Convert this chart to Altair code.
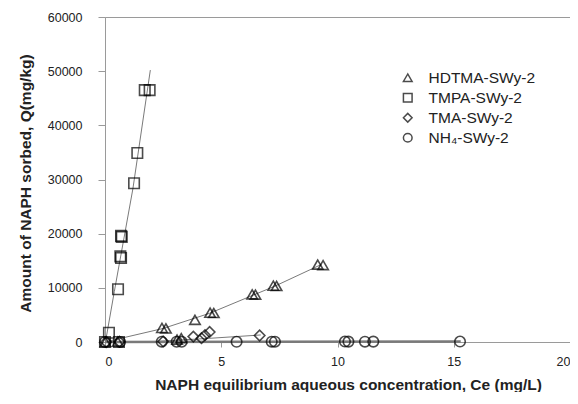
import altair as alt
import pandas as pd

# ---- data ----
series_names = ["HDTMA-SWy-2", "TMPA-SWy-2", "TMA-SWy-2", "NH\u2084-SWy-2"]

hdtma_x = [0.02, 0.55, 2.45, 2.62, 3.10, 3.28, 3.87, 4.52, 4.68, 6.33, 6.47, 7.24, 7.38, 9.15, 9.38]
hdtma_y = [0, 80, 2600, 2500, 450, 700, 4100, 5400, 5350, 8800, 8750, 10400, 10350, 14300, 14200]

tmpa_x = [0.0, 0.6, 0.17, 0.56, 0.66, 0.69, 0.69, 0.72, 1.25, 1.39, 1.71, 1.92]
tmpa_y = [0, 0, 1700, 9750, 15800, 15500, 19600, 19400, 29300, 34900, 46500, 46500]

tma_x = [0.05, 0.62, 2.5, 3.8, 4.15, 4.3, 4.5, 6.65]
tma_y = [0, 50, 100, 1000, 700, 1250, 1850, 1200]

nh4_x = [0.0, 0.65, 2.44, 3.08, 3.3, 5.66, 7.17, 7.31, 10.32, 10.47, 11.18, 11.54, 15.27]
nh4_y = [0, 0, 60, 50, 50, 40, 60, 50, 80, 70, 60, 70, 80]

# fitted curves
fit_hdtma_x = [0.0, 2.5, 4.5, 6.4, 7.3, 9.3]
fit_hdtma_y = [0, 2500, 5300, 8700, 10300, 14300]
fit_tmpa_x = [0.02, 0.4, 1.2, 1.95]
fit_tmpa_y = [0, 9300, 28300, 50200]
fit_tma_x = [0.0, 2.0, 4.5, 6.7]
fit_tma_y = [0, 50, 680, 1300]
fit_nh4_x = [0.0, 15.3]
fit_nh4_y = [0, 90]

x_ticks = [0, 5, 10, 15, 20]
y_ticks = [0, 10000, 20000, 30000, 40000, 50000, 60000]

# ---- tables ----
pts = pd.concat([
    pd.DataFrame({"x": hdtma_x, "y": hdtma_y, "s": series_names[0]}),
    pd.DataFrame({"x": tmpa_x, "y": tmpa_y, "s": series_names[1]}),
    pd.DataFrame({"x": tma_x, "y": tma_y, "s": series_names[2]}),
    pd.DataFrame({"x": nh4_x, "y": nh4_y, "s": series_names[3]}),
])
fits = pd.concat([
    pd.DataFrame({"x": fit_hdtma_x, "y": fit_hdtma_y, "s": "f1", "w": 1.0}),
    pd.DataFrame({"x": fit_tmpa_x, "y": fit_tmpa_y, "s": "f2", "w": 1.0}),
    pd.DataFrame({"x": fit_tma_x, "y": fit_tma_y, "s": "f3", "w": 1.0}),
    pd.DataFrame({"x": fit_nh4_x, "y": fit_nh4_y, "s": "f4", "w": 2.5}),
])

FONT = "Liberation Sans"
xscale = alt.Scale(domain=[0, 20], nice=False, zero=True)
yscale = alt.Scale(domain=[0, 60000], nice=False)

xaxis = alt.Axis(values=x_ticks, title="NAPH equilibrium aqueous concentration, Ce (mg/L)",
                 grid=False, tickSize=5, labelPadding=8, labelFontSize=12.5,
                 titleFontSize=15.5, titleFontWeight="bold",
                 titleX=243, titleY=42, titleBaseline="middle", titleAlign="center")
yaxis = alt.Axis(values=y_ticks, format="d", title="Amount of NAPH sorbed, Q(mg/kg)",
                 grid=False, tickSize=7, labelPadding=16, labelFontSize=12.5,
                 titleFontSize=15.5, titleFontWeight="bold", titleAngle=-90,
                 titleX=-80, titleY=166, titleBaseline="middle", titleAlign="center")

lines = alt.Chart(fits).mark_line(color="#7a7a7a").encode(
    x=alt.X("x:Q", scale=xscale, axis=xaxis),
    y=alt.Y("y:Q", scale=yscale, axis=yaxis),
    detail="s:N",
    strokeWidth=alt.StrokeWidth("w:Q", scale=None, legend=None),
)

points = alt.Chart(pts).mark_point(filled=False, color="black", strokeWidth=1.6, size=110).encode(
    x=alt.X("x:Q", scale=xscale),
    y=alt.Y("y:Q", scale=yscale),
    shape=alt.Shape("s:N",
                    scale=alt.Scale(domain=series_names,
                                    range=["triangle-up", "square", "diamond", "circle"]),
                    legend=alt.Legend(title=None, orient="none", legendX=295, legendY=53,
                                      symbolSize=75, symbolStrokeColor="black",
                                      symbolStrokeWidth=1.5, symbolFillColor="transparent",
                                      symbolType="circle",
                                      labelFontSize=15.5, labelOffset=13, rowPadding=3,
                                      padding=0, labelColor="#222")),
)

chart = alt.layer(lines, points).properties(
    width=465, height=325,
    autosize=alt.AutoSizeParams(type="none"),
    padding={"left": 97, "top": 9, "right": 0, "bottom": 50},
).configure(font=FONT).configure_view(
    stroke="#9a9a9a", strokeWidth=1
).configure_axis(
    domainColor="#9a9a9a", tickColor="#9a9a9a", labelColor="#222", titleColor="#222",
    labelFont=FONT, titleFont=FONT
).configure_legend(labelFont=FONT)

chart.save("out.html", embed_options={"renderer": "svg", "actions": False})
